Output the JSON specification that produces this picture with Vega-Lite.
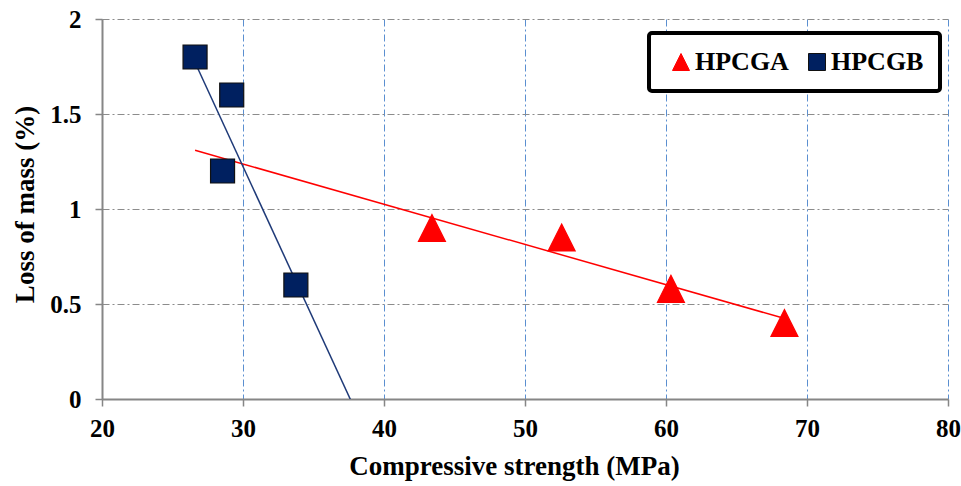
{
  "$schema": "https://vega.github.io/schema/vega-lite/v6.json",
  "width": 846,
  "height": 380,
  "autosize": {"type": "none"},
  "padding": {"left": 102, "top": 19, "right": 13, "bottom": 87},
  "background": "white",
  "data": {
    "values": [
      {"series": "HPCGA", "strength": 43.4, "loss": 0.9},
      {"series": "HPCGA", "strength": 52.6, "loss": 0.85},
      {"series": "HPCGA", "strength": 60.35, "loss": 0.58},
      {"series": "HPCGA", "strength": 68.4, "loss": 0.4},
      {"series": "HPCGB", "strength": 26.6, "loss": 1.8},
      {"series": "HPCGB", "strength": 29.2, "loss": 1.6},
      {"series": "HPCGB", "strength": 28.55, "loss": 1.2},
      {"series": "HPCGB", "strength": 33.75, "loss": 0.6}
    ]
  },
  "encoding": {
    "x": {
      "field": "strength", "type": "quantitative",
      "scale": {"domain": [20, 80]},
      "axis": {
        "values": [20, 30, 40, 50, 60, 70, 80],
        "title": "Compressive strength (MPa)",
        "gridColor": "#5B8FD0",
        "gridDash": [7, 3, 2, 3],
        "gridWidth": 1,
        "labelPadding": 10,
        "labelFlush": false,
        "titleX": 412,
        "titleY": 75,
        "titleBaseline": "alphabetic"
      }
    },
    "y": {
      "field": "loss", "type": "quantitative",
      "scale": {"domain": [0, 2]},
      "axis": {
        "values": [0, 0.5, 1, 1.5, 2],
        "format": "~g",
        "title": "Loss of mass (%)",
        "gridColor": "#8C8C8C",
        "gridDash": [7, 3, 2, 3],
        "gridWidth": 1,
        "labelPadding": 14,
        "labelFlush": false,
        "titleX": -77,
        "titleY": 185,
        "titleAngle": -90,
        "titleAlign": "center",
        "titleBaseline": "middle"
      }
    }
  },
  "layer": [
    {
      "transform": [
        {"filter": "datum.series === 'HPCGA'"},
        {"regression": "loss", "on": "strength", "extent": [26.6, 68.3]}
      ],
      "mark": {"type": "line", "color": "#FF0000", "strokeWidth": 1.5, "clip": true},
      "encoding": {}
    },
    {
      "transform": [
        {"filter": "datum.series === 'HPCGB'"},
        {"regression": "loss", "on": "strength", "extent": [26.6, 37.7]}
      ],
      "mark": {"type": "line", "color": "#1F3A78", "strokeWidth": 1.5, "clip": true},
      "encoding": {}
    },
    {
      "transform": [{"filter": "datum.series === 'HPCGA'"}],
      "mark": {"type": "point", "filled": true, "opacity": 1, "strokeWidth": 1.2, "size": 729},
      "encoding": {
        "shape": {"field": "series", "type": "nominal"},
        "color": {"field": "series", "type": "nominal"},
        "stroke": {"field": "series", "type": "nominal"}
      }
    },
    {
      "transform": [{"filter": "datum.series === 'HPCGB'"}],
      "mark": {"type": "point", "filled": true, "opacity": 1, "strokeWidth": 1.2, "size": 576},
      "encoding": {
        "shape": {
          "field": "series", "type": "nominal",
          "scale": {"domain": ["HPCGA", "HPCGB"], "range": ["M0,-1L1,1L-1,1Z", "square"]},
          "legend": {
            "title": null,
            "orient": "none",
            "legendX": 547,
            "legendY": 14,
            "direction": "horizontal",
            "labelFont": "Liberation Serif",
            "labelFontWeight": "bold",
            "labelFontSize": 26,
            "labelColor": "#000000",
            "labelOffset": 1,
            "symbolSize": 289,
            "symbolOffset": 3,
            "symbolStrokeWidth": 1,
            "columnPadding": 12,
            "padding": 16,
            "strokeColor": "#000000",
            "fillColor": "#FFFFFF",
            "cornerRadius": 3
          }
        },
        "color": {
          "field": "series", "type": "nominal",
          "scale": {"domain": ["HPCGA", "HPCGB"], "range": ["#FF0000", "#002060"]},
          "legend": {"title": null}
        },
        "stroke": {
          "field": "series", "type": "nominal",
          "scale": {"domain": ["HPCGA", "HPCGB"], "range": ["#FF0000", "#111111"]},
          "legend": null
        }
      }
    }
  ],
  "config": {
    "view": {"stroke": null},
    "font": "Liberation Serif",
    "axis": {
      "labelFont": "Liberation Serif",
      "titleFont": "Liberation Serif",
      "labelFontWeight": "bold",
      "titleFontWeight": "bold",
      "labelColor": "#000000",
      "titleColor": "#000000",
      "labelFontSize": 25,
      "titleFontSize": 27,
      "domainColor": "#868686",
      "domainWidth": 2,
      "tickColor": "#868686",
      "tickWidth": 1.5,
      "tickSize": 7
    },
    "legend": {
      "strokeWidth": 4
    }
  }
}
